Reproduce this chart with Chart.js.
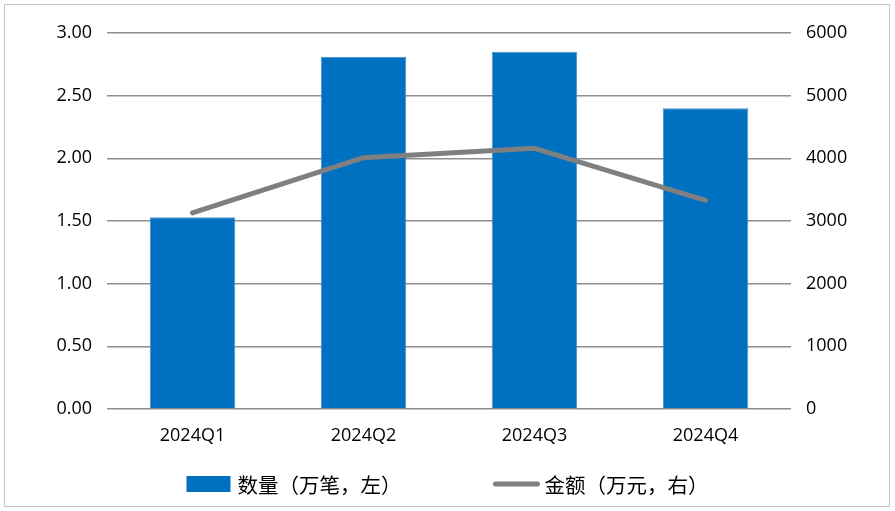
<!DOCTYPE html>
<html>
<head>
<meta charset="utf-8">
<script src="https://cdn.jsdelivr.net/npm/chart.js@4.4.1/dist/chart.umd.min.js"></script>
<style>
  html, body { margin: 0; padding: 0; background: #fff; }
  #wrap { width: 895px; height: 511px; position: relative; }
</style>
</head>
<body>
<div id="wrap"><canvas id="quarterChart"></canvas></div>
<script>
const quarters = ["2024Q1", "2024Q2", "2024Q3", "2024Q4"];
const countValues = [1.53, 2.81, 2.85, 2.40];      // 数量（万笔）
const amountValues = [3130, 4010, 4160, 3330];     // 金额（万元）
const countLabel = "数量（万笔，左）";
const amountLabel = "金额（万元，右）";

const tickFont = { family: "'Open Sans', 'DejaVu Sans', sans-serif", size: 18 };
const gridColor = "#8e8e8e";

// simple legend + outer frame, drawn after the chart
const frameAndLegend = {
    id: "frameAndLegend",
    afterDraw(chart) {
        const ctx = chart.ctx;
        ctx.save();
        ctx.strokeStyle = "#c4c4c4";
        ctx.lineWidth = 1;
        ctx.strokeRect(4.5, 4.5, chart.width - 10, chart.height - 9);

        ctx.font = "20.5px 'Noto Sans CJK SC', sans-serif";
        ctx.textBaseline = "middle";
        ctx.fillStyle = "#000";
        const y = 484, box = 44, gapText = 7, gapItem = 92;
        const items = [chart.data.datasets[0], chart.data.datasets[1]];
        const widths = items.map(d => box + gapText + ctx.measureText(d.label).width);
        let x = (chart.width - (widths[0] + widths[1] + gapItem)) / 2;
        items.forEach((d, i) => {
            if (d.type === "line") {
                ctx.strokeStyle = d.borderColor;
                ctx.lineWidth = d.borderWidth;
                ctx.lineCap = "round";
                ctx.beginPath();
                ctx.moveTo(x + 2, y);
                ctx.lineTo(x + box, y);
                ctx.stroke();
            } else {
                ctx.fillStyle = d.backgroundColor;
                ctx.fillRect(x, y - 8, box, 16);
            }
            ctx.fillStyle = "#000";
            ctx.fillText(d.label, x + box + gapText, y + 1);
            x += widths[i] + gapItem;
        });
        ctx.restore();
    }
};

const ctx = document.getElementById("quarterChart").getContext("2d");
new Chart(ctx, {
    data: {
        labels: quarters,
        datasets: [
            { type: "bar", label: countLabel, data: countValues, yAxisID: "yLeft", order: 2,
              backgroundColor: "#0070c0", borderColor: "#4a8fd0", borderWidth: 1,
              barPercentage: 0.5, categoryPercentage: 1 },
            { type: "line", label: amountLabel, data: amountValues, yAxisID: "yRight", order: 1,
              borderColor: "#7f7f7f", borderWidth: 5, pointRadius: 0, tension: 0, fill: false,
              borderCapStyle: "round", borderJoinStyle: "round" }
        ]
    },
    options: {
        responsive: true, maintainAspectRatio: false, animation: false,
        layout: { padding: { top: 33, left: 0, right: 0, bottom: 52 } },
        plugins: { legend: { display: false }, tooltip: { enabled: false } },
        scales: {
            x: {
                grid: { display: false }, border: { display: false },
                ticks: { color: "#000", font: tickFont, padding: 8, maxRotation: 0 },
                afterFit: s => { s.height = 50; }
            },
            yLeft: {
                position: "left", min: 0, max: 3,
                grid: { color: gridColor, lineWidth: 1.6, drawTicks: false },
                border: { display: false },
                ticks: { stepSize: 0.5, color: "#000", font: tickFont, padding: 15,
                         callback: v => v.toFixed(2) },
                afterFit: s => { s.width = 107; }
            },
            yRight: {
                position: "right", min: 0, max: 6000,
                grid: { drawOnChartArea: false, drawTicks: false },
                border: { display: false },
                ticks: { stepSize: 1000, color: "#000", font: tickFont, padding: 15,
                         callback: v => String(v) },
                afterFit: s => { s.width = 104; }
            }
        }
    },
    plugins: [frameAndLegend]
});
</script>
</body>
</html>
